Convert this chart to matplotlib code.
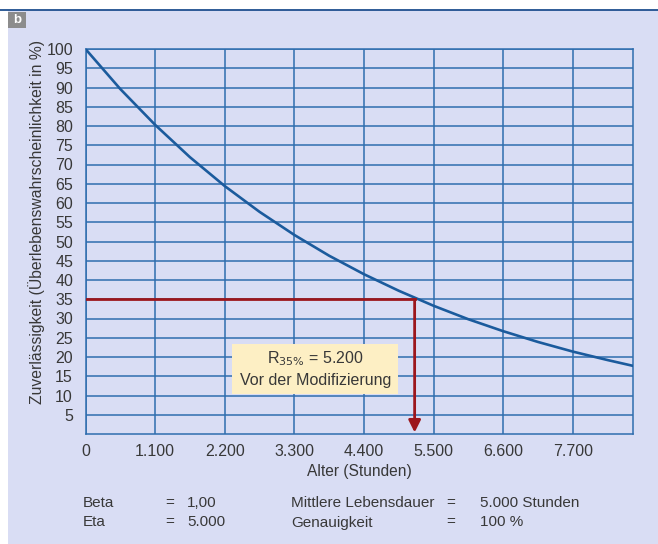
import numpy as np
import matplotlib
matplotlib.use('Agg')
import matplotlib.pyplot as plt
from matplotlib.patches import Rectangle

plt.rcParams.update({'font.size': 11, 'font.family': 'Liberation Sans'})

# curve (hours, reliability %)
age_h = [0, 550, 1100, 1650, 2200, 2750, 3300, 3850, 4400, 4950, 5500,
         6050, 6600, 7150, 7700, 8250, 8650]
reliab = [100, 89.6, 80.3, 71.9, 64.4, 57.7, 51.7, 46.3, 41.5, 37.2, 33.3,
          29.8, 26.7, 23.9, 21.4, 19.2, 17.7]
x_ticks = [0, 1100, 2200, 3300, 4400, 5500, 6600, 7700]
x_labels = ['0', '1.100', '2.200', '3.300', '4.400', '5.500', '6.600', '7.700']
y_ticks = list(range(5, 105, 5))
r_level = 35
r_age = 5200

BG = '#d9ddf4'
GRID = '#2f6dae'
CURVE = '#1b5b9d'
RED = '#9c161c'
TXT = '#383838'
FS = 11.5

fig = plt.figure(figsize=(6.58, 5.44), dpi=100, facecolor='white')
fig.patches.append(Rectangle((8/658, 0), 1, 1 - 10/544, transform=fig.transFigure,
                             facecolor=BG, edgecolor='none', zorder=-10))
fig.add_artist(plt.Line2D([0, 1], [1 - 10/544, 1 - 10/544], transform=fig.transFigure,
                          color='#1f4f8f', lw=1.3))
fig.patches.append(Rectangle((8/658, 1 - 28/544), 18/658, 16/544, transform=fig.transFigure,
                             facecolor='#8c8c8c', edgecolor='none'))
fig.text(17/658, 1 - 20/544, 'b', color='white', fontweight='bold', fontsize=9.5,
         ha='center', va='center')

ax = fig.add_axes([85.5/658, 1 - 434/544, (633 - 85.5)/658, (434 - 49)/544])
ax.set_facecolor(BG)
ax.set_xlim(0, 8650)
ax.set_ylim(0, 100)
ax.set_xticks(x_ticks)
ax.set_xticklabels(x_labels)
ax.set_yticks(y_ticks)
ax.tick_params(length=0, colors=TXT, labelsize=FS)
ax.tick_params(axis='y', pad=9)
ax.tick_params(axis='x', pad=7)
ax.grid(True, color=GRID, lw=1.1)
ax.set_axisbelow(True)
for s in ax.spines.values():
    s.set_color(GRID)
    s.set_linewidth(1.1)

ax.plot(age_h, reliab, color=CURVE, lw=1.9, zorder=3)

# R35% marker
ax.plot([0, r_age], [r_level, r_level], color=RED, lw=2, zorder=4)
ax.annotate('', xy=(r_age, 0.4), xytext=(r_age, r_level),
            arrowprops=dict(arrowstyle='-|>', color=RED, lw=2, mutation_scale=18,
                            shrinkA=0, shrinkB=0), zorder=4)

ax.add_patch(Rectangle((2320, 10.4), 2620, 12.9, facecolor='#fdefc4', edgecolor='none', zorder=5))
ax.text(3630, 19.6, r'R$_{35\%}$ = 5.200', ha='center', va='center', color=TXT,
        fontsize=FS, zorder=6)
ax.text(3630, 13.8, 'Vor der Modifizierung', ha='center', va='center', color=TXT,
        fontsize=FS, zorder=6)

ax.set_xlabel('Alter (Stunden)', color=TXT, fontsize=11.2, labelpad=4)
ax.set_ylabel('Zuverlässigkeit (Überlebenswahrscheinlichkeit in %)', color=TXT,
              fontsize=11.3)
ax.yaxis.set_label_coords(-40/547.5, 0.55)

# parameter table below the chart
rows = [('Beta', '1,00', 'Mittlere Lebensdauer', '5.000 Stunden'),
        ('Eta', '5.000', 'Genauigkeit', '100 %')]
for i, (a, b, c, d) in enumerate(rows):
    yy = 1 - (503 + 19.5 * i) / 544
    fig.text(83/658, yy, a, color=TXT, fontsize=11, va='center')
    fig.text(165/658, yy, '=', color=TXT, fontsize=11, va='center')
    fig.text(187/658, yy, b, color=TXT, fontsize=11, va='center')
    fig.text(291/658, yy, c, color=TXT, fontsize=11, va='center')
    fig.text(446/658, yy, '=', color=TXT, fontsize=11, va='center')
    fig.text(480/658, yy, d, color=TXT, fontsize=11, va='center')

fig.savefig('out.png', dpi=100, facecolor=fig.get_facecolor())
